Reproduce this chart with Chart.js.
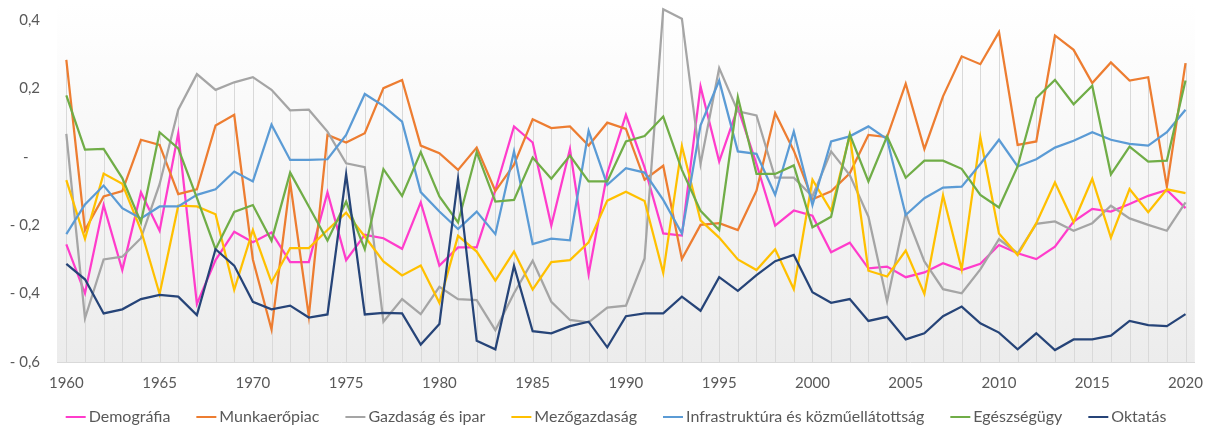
<!DOCTYPE html>
<html lang="hu">
<head>
  <meta charset="UTF-8">
  <title>Indexek 1960-2020</title>
  <script src="https://cdn.jsdelivr.net/npm/chart.js"></script>
  <style>
    body { margin: 0; background: #ffffff; }
    #chartContainer { width: 1215px; height: 425px; }
  </style>
</head>
<body>
  <div id="chartContainer">
    <canvas id="myChart" width="1215" height="425"></canvas>
  </div>

  <script>
    // évek (kategóriák)
    const years = [
      1960, 1961, 1962, 1963, 1964, 1965, 1966, 1967, 1968, 1969,
      1970, 1971, 1972, 1973, 1974, 1975, 1976, 1977, 1978, 1979,
      1980, 1981, 1982, 1983, 1984, 1985, 1986, 1987, 1988, 1989,
      1990, 1991, 1992, 1993, 1994, 1995, 1996, 1997, 1998, 1999,
      2000, 2001, 2002, 2003, 2004, 2005, 2006, 2007, 2008, 2009,
      2010, 2011, 2012, 2013, 2014, 2015, 2016, 2017, 2018, 2019,
      2020
    ];
    const xTickLabels = [1960, 1965, 1970, 1975, 1980, 1985, 1990, 1995, 2000, 2005, 2010, 2015, 2020];
    const yTickValues = [-0.6, -0.4, -0.2, 0, 0.2, 0.4];
    const yTickLabels = ['- 0,6', '- 0,4', '- 0,2', '-   ', '0,2', '0,4'];

    const seriesNames = ['Demográfia', 'Munkaerőpiac', 'Gazdaság és ipar', 'Mezőgazdaság',
      'Infrastruktúra és közműellátottság', 'Egészségügy', 'Oktatás'];

    const demografia = [
      -0.256, -0.399, -0.141, -0.331, -0.104, -0.216, 0.069, -0.430, -0.302, -0.219,
      -0.250, -0.221, -0.308, -0.308, -0.104, -0.302, -0.228, -0.238, -0.269, -0.133,
      -0.318, -0.265, -0.265, -0.097, 0.089, 0.042, -0.201, 0.023, -0.343, -0.048,
      0.123, -0.031, -0.224, -0.230, 0.206, -0.014, 0.144, -0.021, -0.201, -0.157,
      -0.172, -0.279, -0.251, -0.326, -0.321, -0.352, -0.338, -0.311, -0.331, -0.313,
      -0.258, -0.282, -0.299, -0.263, -0.189, -0.152, -0.160, -0.138, -0.114, -0.097,
      -0.150
    ];
    const munkaeropiac = [
      0.284, -0.214, -0.116, -0.100, 0.050, 0.035, -0.109, -0.095, 0.092, 0.123,
      -0.300, -0.505, -0.075, -0.466, 0.064, 0.042, 0.069, 0.201, 0.225, 0.033,
      0.011, -0.038, 0.027, -0.100, -0.023, 0.110, 0.084, 0.089, 0.033, 0.100,
      0.082, -0.067, -0.026, -0.299, -0.199, -0.194, -0.214, -0.099, 0.128, 0.018,
      -0.124, -0.101, -0.048, 0.064, 0.058, 0.214, 0.023, 0.177, 0.294, 0.271,
      0.365, 0.035, 0.045, 0.355, 0.313, 0.216, 0.276, 0.223, 0.233, -0.087,
      0.274
    ];
    const gazdasag = [
      0.067, -0.472, -0.300, -0.292, -0.238, -0.080, 0.138, 0.242, 0.196, 0.218,
      0.233, 0.196, 0.136, 0.138, 0.074, -0.019, -0.030, -0.482, -0.416, -0.460,
      -0.380, -0.416, -0.419, -0.507, -0.399, -0.304, -0.424, -0.477, -0.484, -0.441,
      -0.435, -0.297, 0.432, 0.404, -0.021, 0.260, 0.133, 0.121, -0.061, -0.061,
      -0.116, 0.016, -0.053, -0.175, -0.422, -0.165, -0.306, -0.387, -0.399, -0.329,
      -0.241, -0.282, -0.196, -0.189, -0.216, -0.194, -0.143, -0.180, -0.199, -0.216,
      -0.133
    ];
    const mezogazdasag = [
      -0.068, -0.240, -0.049, -0.079, -0.214, -0.401, -0.143, -0.145, -0.168, -0.389,
      -0.214, -0.367, -0.267, -0.267, -0.214, -0.163, -0.233, -0.306, -0.347, -0.318,
      -0.427, -0.231, -0.277, -0.362, -0.277, -0.388, -0.308, -0.302, -0.250, -0.128,
      -0.102, -0.129, -0.339, 0.032, -0.186, -0.236, -0.300, -0.331, -0.270, -0.387,
      -0.067, -0.158, 0.064, -0.333, -0.350, -0.274, -0.401, -0.113, -0.329, 0.057,
      -0.224, -0.287, -0.194, -0.075, -0.191, -0.064, -0.236, -0.094, -0.162, -0.095,
      -0.106
    ];
    const infrastruktura = [
      -0.226, -0.139, -0.084, -0.150, -0.180, -0.145, -0.145, -0.111, -0.095, -0.043,
      -0.072, 0.094, -0.009, -0.009, -0.007, 0.064, 0.184, 0.149, 0.103, -0.103,
      -0.160, -0.211, -0.160, -0.226, 0.016, -0.255, -0.239, -0.244, 0.076, -0.082,
      -0.033, -0.046, -0.126, -0.224, 0.092, 0.223, 0.016, 0.009, -0.111, 0.074,
      -0.141, 0.045, 0.060, 0.089, 0.052, -0.170, -0.121, -0.090, -0.087, -0.021,
      0.050, -0.028, -0.007, 0.027, 0.047, 0.072, 0.050, 0.038, 0.033, 0.072,
      0.138
    ];
    const egeszsegugy = [
      0.180, 0.021, 0.023, -0.062, -0.192, 0.072, 0.025, -0.120, -0.270, -0.161,
      -0.141, -0.245, -0.046, -0.145, -0.245, -0.131, -0.270, -0.036, -0.114, 0.014,
      -0.116, -0.192, 0.014, -0.131, -0.126, -0.002, -0.064, 0.004, -0.072, -0.072,
      0.045, 0.061, 0.118, -0.038, -0.158, -0.214, 0.175, -0.050, -0.050, -0.025,
      -0.206, -0.175, 0.066, -0.072, 0.060, -0.061, -0.011, -0.011, -0.035, -0.111,
      -0.148, -0.028, 0.172, 0.225, 0.154, 0.208, -0.051, 0.030, -0.014, -0.011,
      0.223
    ];
    const oktatas = [
      -0.313, -0.358, -0.458, -0.446, -0.416, -0.404, -0.409, -0.463, -0.270, -0.318,
      -0.424, -0.446, -0.435, -0.470, -0.461, -0.051, -0.461, -0.456, -0.458, -0.549,
      -0.489, -0.064, -0.538, -0.563, -0.319, -0.510, -0.516, -0.495, -0.482, -0.557,
      -0.466, -0.458, -0.458, -0.409, -0.450, -0.352, -0.392, -0.346, -0.305, -0.287,
      -0.396, -0.427, -0.416, -0.480, -0.468, -0.534, -0.516, -0.466, -0.438, -0.487,
      -0.514, -0.563, -0.516, -0.565, -0.534, -0.534, -0.523, -0.480, -0.492, -0.495,
      -0.460
    ];

    const seriesData = [demografia, munkaeropiac, gazdasag, mezogazdasag, infrastruktura, egeszsegugy, oktatas];
    const seriesColors = ['#ff3ccb', '#ed7d31', '#a5a5a5', '#ffc000', '#5b9bd5', '#70ad47', '#264478'];

    const textColor = '#595959';
    const fontFamily = 'Lato, "Open Sans", sans-serif';

    // háttér színátmenet + függőleges vetítővonalak
    const plotDecor = {
      id: 'plotDecor',
      beforeDraw(chart) {
        const { ctx, chartArea: a } = chart;
        const g = ctx.createLinearGradient(0, a.top, 0, a.bottom);
        g.addColorStop(0, '#ffffff');
        g.addColorStop(1, '#ececec');
        ctx.save();
        ctx.fillStyle = g;
        ctx.fillRect(a.left, a.top, a.right - a.left, a.bottom - a.top);
        ctx.restore();
      },
      beforeDatasetsDraw(chart) {
        const { ctx, chartArea: a } = chart;
        const metas = chart.data.datasets.map((d, i) => chart.getDatasetMeta(i));
        ctx.save();
        ctx.strokeStyle = '#d9d9d9';
        ctx.lineWidth = 1;
        years.forEach((y, j) => {
          let top = a.bottom;
          metas.forEach(m => { top = Math.min(top, m.data[j].y); });
          const x = Math.round(metas[0].data[j].x) + 0.5;
          ctx.beginPath();
          ctx.moveTo(x, top);
          ctx.lineTo(x, a.bottom);
          ctx.stroke();
        });
        ctx.restore();
      }
    };

    // jelmagyarázat vonallal, Excel-szerűen
    const lineLegend = {
      id: 'lineLegend',
      afterDraw(chart) {
        const ctx = chart.ctx;
        ctx.save();
        ctx.font = '16px ' + fontFamily;
        ctx.textBaseline = 'middle';
        const lineW = 20, gap = 3, space = 26;
        const items = chart.data.datasets.map(ds => ({
          label: ds.label, color: ds.borderColor, w: ctx.measureText(ds.label).width
        }));
        const total = items.reduce((s, it) => s + lineW + gap + it.w, 0) + space * (items.length - 1);
        let x = 616 - total / 2;
        const y = 417;
        items.forEach(it => {
          ctx.strokeStyle = it.color;
          ctx.lineWidth = 2;
          ctx.beginPath();
          ctx.moveTo(x, y);
          ctx.lineTo(x + lineW, y);
          ctx.stroke();
          ctx.fillStyle = textColor;
          ctx.fillText(it.label, x + lineW + gap, y);
          x += lineW + gap + it.w + space;
        });
        ctx.restore();
      }
    };

    const ctx = document.getElementById('myChart').getContext('2d');
    const myChart = new Chart(ctx, {
      type: 'line',
      data: {
        labels: years,
        datasets: seriesData.map((values, i) => ({
          label: seriesNames[i],
          data: values,
          borderColor: seriesColors[i],
          backgroundColor: seriesColors[i],
          borderWidth: 2.25,
          pointRadius: 0,
          tension: 0,
          fill: false,
          clip: false,
          order: seriesData.length - 1 - i
        }))
      },
      options: {
        responsive: false,
        animation: false,
        layout: { padding: { top: 3, right: 10, bottom: 33, left: 0 } },
        plugins: {
          legend: { display: false },
          tooltip: { enabled: false }
        },
        scales: {
          x: {
            offset: true,
            grid: { display: false, drawTicks: false },
            border: { display: true, color: '#d9d9d9', width: 1 },
            ticks: {
              autoSkip: false,
              maxRotation: 0,
              padding: 12,
              color: textColor,
              font: { family: fontFamily, size: 15 },
              callback: function (value) {
                const yr = years[value];
                return xTickLabels.includes(yr) ? String(yr) : '';
              }
            },
            afterFit(scale) { scale.height = 30; }
          },
          y: {
            min: -0.6,
            max: 0.45,
            grid: { display: false, drawTicks: false },
            border: { display: false },
            afterBuildTicks(scale) {
              scale.ticks = yTickValues.map(v => ({ value: v }));
            },
            ticks: {
              padding: 17,
              color: textColor,
              font: { family: fontFamily, size: 15 },
              callback: function (value) {
                const k = yTickValues.findIndex(v => Math.abs(v - value) < 1e-9);
                return k >= 0 ? yTickLabels[k] : '';
              }
            },
            afterFit(scale) {
              scale.width = 57;
              scale.paddingTop = 0;
              scale.paddingBottom = 0;
            }
          }
        }
      },
      plugins: [plotDecor, lineLegend]
    });
  </script>
</body>
</html>
